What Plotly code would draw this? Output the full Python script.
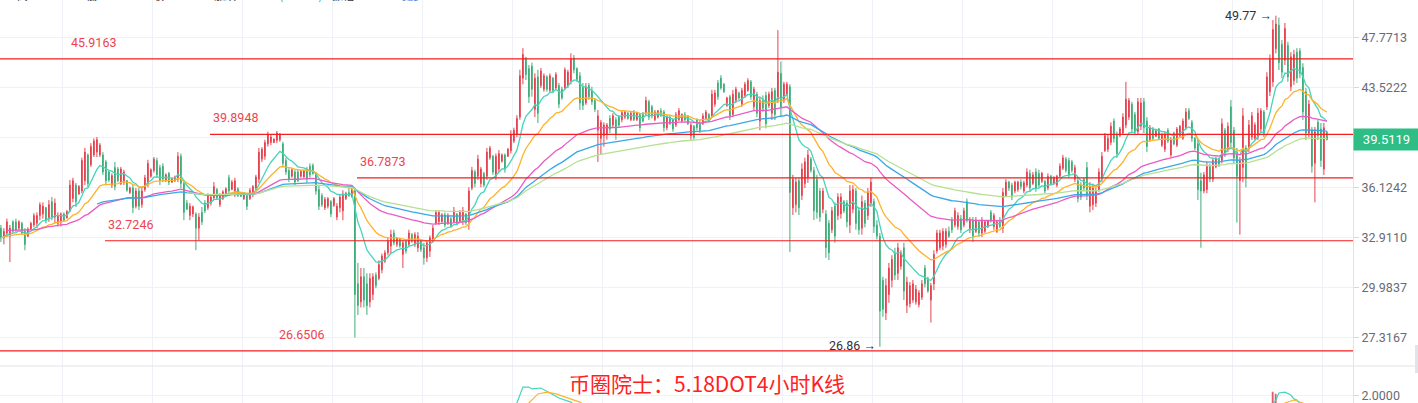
import math
import plotly.graph_objects as go
from plotly.subplots import make_subplots

# ---------------- data (4H candles, DOT) ----------------
opens = [33.5,32.9,33.2,33.0,33.9,33.9,33.5,33.8,33.3,33.0,
 33.45,33.7,33.8,34.3,34.4,34.8,34.1,35.2,34.2,33.8,
 33.9,34.4,34.15,34.6,35.4,36.3,35.7,35.9,36.6,38.4,
 37.7,38.4,38.6,38.4,38.4,37.9,37.2,36.3,37.5,37.4,
 36.4,36.5,36.6,35.8,36.1,34.9,35.9,35.0,36.0,36.4,
 36.9,37.3,38.0,37.5,37.6,36.6,37.1,36.5,36.6,36.7,
 38.3,36.4,35.1,34.3,34.4,34.4,33.5,34.5,35.1,34.8,
 35.1,35.45,36.0,35.0,35.4,35.6,36.8,36.0,35.8,36.05,
 35.75,35.4,35.6,35.4,35.7,36.1,36.7,38.1,38.3,39.2,
 39.3,39.3,39.45,39.5,39.2,38.0,37.3,36.9,37.2,37.2,
 36.9,36.85,37.4,37.6,37.65,37.0,36.0,35.6,34.8,34.9,
 35.2,34.95,34.2,34.8,34.6,35.4,35.8,35.55,35.9,30.2,
 29.2,30.6,30.2,29.2,29.6,30.7,30.5,31.0,31.5,32.0,
 32.4,33.2,32.5,32.85,31.9,32.7,32.5,33.1,32.5,32.3,
 32.7,32.3,31.7,32.1,32.8,33.8,33.9,33.9,34.35,33.8,
 34.1,33.9,34.4,33.9,34.0,34.4,33.9,36.1,37.2,36.9,
 36.4,37.1,36.9,38.2,38.3,36.9,37.4,37.95,38.4,38.3,
 38.7,39.4,39.9,41.2,44.3,46.0,45.1,45.3,41.8,44.4,
 43.7,43.4,44.4,43.3,44.3,43.5,43.7,43.4,43.5,43.7,
 44.1,46.0,45.1,44.5,43.6,42.3,43.7,43.3,42.5,40.2,
 39.6,39.8,39.9,41.1,40.6,41.0,41.2,41.0,41.2,41.5,
 41.0,41.6,41.0,41.4,41.5,41.5,42.4,42.0,41.0,41.2,
 41.7,41.6,40.4,41.2,41.0,40.6,41.0,40.9,41.4,41.3,
 39.8,40.5,41.0,40.7,40.7,41.1,41.4,41.3,42.2,43.9,
 44.3,43.8,42.1,42.8,41.4,42.5,43.1,42.2,42.9,43.3,
 44.0,42.0,43.0,40.9,42.5,42.9,42.1,41.5,43.3,42.6,
 44.7,42.5,43.0,43.6,34.8,35.0,36.6,35.6,36.4,36.8,
 38.1,37.3,36.7,35.9,34.7,34.4,33.8,33.4,34.9,34.3,
 34.4,35.2,35.1,33.7,34.7,35.9,34.6,33.5,35.1,34.3,
 35.1,35.2,33.7,33.0,30.4,28.6,29.6,30.4,32.0,30.8,
 31.2,32.3,29.0,29.1,29.3,29.2,29.05,29.45,31.1,30.5,
 29.3,30.2,32.1,32.3,32.4,32.5,33.3,34.0,33.7,33.6,
 34.1,33.7,35.2,33.4,34.0,33.3,33.9,33.2,33.3,33.6,
 34.5,33.6,33.3,33.9,33.5,35.6,36.5,36.3,35.9,36.0,
 36.5,35.9,36.3,37.1,36.4,37.2,37.1,36.55,36.55,36.1,
 36.9,36.4,36.3,36.9,37.45,38.1,38.0,37.9,36.7,36.6,
 36.3,36.7,37.5,34.9,35.0,35.1,36.0,36.7,38.7,38.8,
 39.3,40.9,39.9,39.8,40.0,40.6,41.2,42.2,41.4,40.1,
 40.5,42.4,40.9,39.5,40.3,39.75,40.3,39.1,38.8,40.2,
 38.4,40.0,39.1,39.8,39.6,40.4,41.7,40.8,39.6,39.2,
 36.6,35.9,36.0,37.6,36.7,37.55,38.1,38.0,40.2,38.8,
 42.0,40.2,38.6,36.6,37.5,38.9,38.9,39.7,39.6,39.7,
 40.3,41.6,42.0,43.2,44.0,46.8,48.9,47.2,45.8,47.1,
 43.6,44.1,46.5,46.6,45.2,43.2,40.0,40.2,37.8,40.8,
 40.3,37.4,40.05]

highs = [33.7,33.5,34.1,33.7,34.0,34.1,34.0,33.9,33.5,33.55,
 33.9,34.45,34.5,35.15,35.15,34.85,35.3,35.5,35.4,34.5,
 34.5,34.5,34.65,36.65,36.8,36.45,36.3,38.2,38.9,38.5,
 39.25,39.6,39.7,39.25,38.6,38.05,37.3,37.1,37.9,37.55,
 37.55,37.35,36.65,36.2,36.3,36.1,36.1,36.15,37.0,38.05,
 37.45,38.25,38.2,37.7,37.8,37.1,37.2,36.8,36.95,38.6,
 38.5,36.65,35.3,35.1,34.95,34.5,34.45,34.85,35.3,35.75,
 35.65,36.5,36.1,35.75,35.95,36.15,37.0,36.65,36.8,36.15,
 35.8,35.8,35.75,36.1,36.3,37.0,38.9,38.95,39.5,40.1,
 39.85,39.6,40.15,40.0,39.35,38.2,37.45,37.45,37.35,37.35,
 37.35,37.35,37.55,37.8,37.8,37.2,36.3,35.75,35.5,35.5,
 35.3,35.5,35.1,35.65,35.95,35.85,36.15,36.15,36.1,31.4,
 31.1,31.1,30.8,30.8,30.8,30.85,31.55,31.95,32.15,32.9,
 33.4,33.4,32.95,32.9,32.75,32.75,33.4,33.2,33.25,33.25,
 32.75,32.6,32.75,33.05,33.7,34.65,34.65,34.45,34.5,34.45,
 34.2,34.85,34.45,34.65,34.85,34.45,36.15,37.55,37.35,38.4,
 37.55,37.2,38.9,39.05,38.4,38.5,38.75,38.5,38.5,38.9,
 40.2,40.4,41.35,45.0,46.85,46.1,45.4,45.6,44.7,45.0,
 45.15,44.7,44.55,44.7,44.4,44.8,43.9,43.6,45.2,45.0,
 46.4,46.25,45.2,44.8,43.9,43.9,43.9,43.6,42.7,41.75,
 40.98,40.8,40.75,41.35,41.5,41.2,41.35,41.75,41.7,41.6,
 41.6,41.75,41.6,41.5,41.6,42.8,42.55,42.15,41.75,41.75,
 41.9,41.75,41.35,41.35,41.1,41.6,41.9,41.5,41.6,41.35,
 40.75,40.6,41.1,40.98,41.5,41.75,41.5,43.35,43.35,44.15,
 44.55,43.9,42.8,42.95,43.35,43.6,43.2,43.5,44.0,44.3,
 44.15,43.6,43.2,42.8,42.9,43.2,43.2,43.5,43.5,48.45,
 45.7,44.0,44.0,43.8,37.0,36.8,36.8,37.8,38.2,38.75,
 38.25,37.55,37.0,36.1,36.1,34.65,34.01,34.85,35.15,35.75,
 35.75,35.3,35.3,36.3,36.3,36.1,34.85,35.6,35.3,36.1,
 36.8,35.4,34.0,33.2,30.6,30.5,31.4,31.85,32.3,32.6,
 32.15,32.6,30.6,30.3,30.42,30.13,29.85,30.42,31.28,30.6,
 30.25,32.15,33.4,33.4,33.5,33.5,33.6,34.2,34.8,34.5,
 34.33,34.8,35.4,34.2,34.2,34.2,34.0,34.2,34.0,34.0,
 34.65,34.45,34.0,34.2,36.1,36.7,36.6,36.45,36.6,36.6,
 36.7,36.6,37.45,37.35,37.2,37.45,37.35,37.2,36.65,37.1,
 37.0,36.9,37.0,37.8,38.4,38.25,38.2,38.05,37.7,36.8,
 36.5,36.8,37.9,36.5,36.4,36.15,37.45,38.6,40.0,39.85,
 40.8,41.1,40.1,40.45,41.5,44.0,42.7,42.4,41.6,42.7,
 42.7,42.7,41.2,40.6,40.45,40.22,40.37,40.0,40.1,40.37,
 39.7,40.1,40.45,40.6,41.1,41.9,41.9,40.98,39.7,39.48,
 37.15,37.2,37.9,37.8,38.2,38.25,38.2,41.1,40.37,40.8,
 42.54,40.45,38.9,38.25,41.9,39.1,40.98,41.6,40.8,41.9,
 41.9,41.75,44.8,46.3,49.37,49.77,49.6,47.57,49.1,47.4,
 46.5,46.7,46.85,46.85,45.55,43.5,42.54,40.45,40.45,40.98,
 40.75,40.75,40.15]

lows = [32.65,32.5,32.95,31.45,33.2,33.25,33.4,33.1,32.15,32.95,
 33.4,33.55,33.5,34.0,34.1,33.8,33.9,34.0,33.8,33.6,
 33.6,33.9,34.1,34.5,35.15,34.85,35.65,35.75,36.3,36.15,
 37.55,38.25,38.25,38.25,37.0,36.3,36.5,36.1,35.95,36.5,
 36.3,36.3,35.85,35.7,34.45,34.75,34.65,34.8,35.85,36.15,
 36.8,37.15,36.8,36.3,36.5,36.5,36.3,36.45,36.5,36.5,
 36.1,34.0,34.65,34.0,34.2,32.15,32.75,33.7,34.45,34.65,
 34.95,35.3,35.3,34.85,35.3,35.5,35.75,35.95,35.5,35.5,
 35.5,35.3,34.65,35.3,35.5,35.95,36.45,37.9,38.05,39.0,
 39.1,39.25,39.25,39.35,37.55,37.0,36.5,36.8,36.3,36.5,
 36.8,36.8,36.45,36.8,37.0,35.65,34.65,34.85,34.65,34.75,
 34.2,34.85,34.0,34.5,34.0,35.3,35.5,35.45,27.32,28.5,
 28.9,28.9,28.5,28.9,29.3,29.95,30.4,30.8,31.4,31.85,
 31.95,32.45,32.35,32.3,31.1,31.95,32.35,32.6,32.35,32.05,
 32.05,31.3,31.45,31.75,32.6,33.7,33.7,33.85,33.55,33.7,
 33.55,33.85,33.7,33.85,33.7,33.7,33.4,35.95,36.15,36.65,
 36.15,36.15,36.65,38.05,37.0,36.65,37.2,37.85,37.15,38.25,
 38.5,39.25,39.7,41.0,43.8,44.15,42.3,42.8,41.2,40.75,
 43.5,43.2,43.2,43.1,43.1,43.35,41.9,42.55,43.35,43.5,
 43.8,44.7,44.0,41.75,41.75,42.15,42.55,42.15,41.6,37.9,
 38.4,39.0,39.5,40.0,40.4,39.5,40.4,40.8,41.05,41.0,
 40.9,40.9,40.9,40.1,40.8,41.35,40.98,41.1,40.9,41.1,
 41.2,40.1,40.2,40.6,40.1,40.45,40.9,40.8,40.9,40.6,
 39.5,39.5,40.2,40.0,40.6,40.98,40.8,41.2,42.0,42.55,
 43.35,43.1,42.0,40.98,41.2,42.3,42.55,42.0,42.7,43.2,
 42.55,41.75,41.2,40.2,41.6,40.35,41.9,40.98,40.98,42.3,
 41.2,42.3,42.85,32.05,34.33,34.5,34.33,35.3,36.1,36.45,
 37.15,34.01,34.1,33.9,34.45,31.7,31.57,33.2,32.6,34.01,
 34.1,34.45,33.55,33.2,34.45,33.4,33.1,33.1,33.55,34.01,
 34.85,33.2,32.8,26.86,28.4,28.23,29.15,30.0,30.42,30.42,
 31.0,29.3,28.6,28.9,29.15,29.05,28.9,29.3,30.0,29.7,
 28.1,29.85,31.95,32.15,32.15,32.3,32.9,33.2,33.55,33.4,
 33.2,33.55,33.85,33.2,32.65,33.2,32.95,32.95,33.2,33.5,
 33.85,33.4,33.2,33.5,33.2,35.5,35.9,35.3,35.75,35.85,
 36.0,35.75,36.15,35.85,36.3,35.85,36.15,36.45,35.75,35.95,
 36.3,36.3,36.15,36.8,37.33,37.15,36.8,37.15,36.5,35.15,
 35.3,35.95,35.3,34.5,34.65,34.85,35.85,36.5,38.6,38.6,
 39.1,39.3,38.2,39.7,39.85,40.35,40.98,40.0,39.85,39.85,
 40.22,40.0,38.6,39.35,39.48,39.7,39.48,38.97,38.6,39.25,
 38.25,39.1,38.97,39.7,39.48,40.22,40.98,39.35,38.75,35.3,
 32.3,35.75,35.75,36.5,36.5,37.45,37.55,37.8,38.25,38.6,
 38.9,37.8,33.85,33.1,36.5,36.15,38.6,39.48,39.48,39.48,
 40.0,39.7,41.75,42.85,43.6,46.4,44.98,44.3,45.4,44.0,
 43.25,43.75,43.9,44.3,40.98,39.48,39.7,37.15,35.15,39.48,
 37.55,36.99,39.45]

closes = [32.9,33.3,33.9,33.5,33.3,33.4,33.9,33.2,32.5,33.45,
 33.8,34.3,34.3,35.0,34.9,34.0,35.0,34.2,35.1,34.3,
 34.4,34.0,34.55,36.3,36.6,35.2,36.2,38.0,38.6,36.4,
 39.0,39.4,39.5,39.1,37.2,36.6,36.65,36.95,36.2,36.6,
 37.4,37.2,35.95,36.1,34.8,35.9,34.9,35.9,36.8,37.8,
 37.35,38.1,37.0,36.6,36.7,37.0,36.5,36.75,36.85,38.3,
 36.4,34.5,34.7,34.9,34.85,33.5,34.2,33.9,34.6,35.6,
 35.5,36.2,35.45,35.6,35.85,36.05,35.9,36.5,36.6,35.6,
 35.55,35.7,34.9,35.95,36.2,36.85,38.6,38.8,39.3,39.9,
 39.7,39.55,40.0,39.9,37.8,37.2,36.7,37.35,36.5,36.6,
 37.25,37.3,36.7,37.0,37.1,35.9,34.9,35.0,35.35,35.4,
 34.4,35.4,34.9,35.5,35.7,35.75,35.6,36.0,29.6,29.0,
 30.6,29.3,29.0,30.5,30.6,30.1,31.3,31.8,32.0,32.7,
 33.1,32.6,32.85,32.4,32.6,32.1,33.2,32.7,33.1,33.0,
 32.2,31.7,32.6,32.9,33.5,34.5,34.5,34.35,33.7,34.3,
 33.65,34.6,33.8,34.5,34.6,33.85,35.9,37.3,36.4,38.1,
 37.4,36.3,38.6,38.9,37.2,38.3,38.5,38.4,37.4,38.8,
 39.9,40.2,41.1,44.5,46.3,44.6,42.8,43.4,44.3,41.5,
 44.9,44.5,43.4,44.5,43.3,44.6,42.2,42.7,45.0,44.8,
 45.9,45.0,44.2,42.3,42.1,43.6,42.8,42.4,41.8,41.3,
 40.8,40.6,40.6,40.3,41.3,39.9,40.6,41.55,41.6,41.1,
 41.5,41.0,41.5,40.4,40.9,42.5,41.2,41.3,41.6,41.7,
 41.35,40.4,41.2,40.7,40.3,41.4,41.7,41.4,41.0,40.7,
 40.6,39.7,40.4,40.2,41.3,41.6,40.9,43.0,43.1,42.8,
 43.5,43.2,42.7,41.3,43.0,43.4,42.7,43.3,43.8,44.1,
 42.8,43.4,41.5,42.5,41.9,40.7,43.0,43.2,41.4,44.8,
 42.0,43.8,43.8,35.8,36.7,36.5,34.8,37.4,37.9,38.4,
 37.3,34.6,34.5,34.2,35.9,32.3,32.0,34.6,33.0,35.5,
 35.5,34.6,33.9,35.9,36.0,33.8,33.4,35.2,33.8,35.8,
 36.5,33.6,33.0,28.7,28.8,30.1,31.1,31.6,30.7,32.3,
 32.0,29.8,30.3,30.1,30.2,29.9,29.7,30.2,30.2,29.8,
 30.1,31.9,33.2,33.2,33.3,33.3,33.0,33.4,34.6,34.3,
 33.4,34.6,34.0,34.0,33.0,34.0,33.2,34.0,33.9,33.95,
 33.95,34.3,33.9,33.6,35.8,36.5,36.1,35.5,36.5,36.5,
 36.2,36.45,37.2,36.1,37.0,36.1,36.3,37.1,35.9,36.9,
 36.4,36.8,36.9,37.6,38.2,37.3,37.0,37.3,37.5,35.4,
 35.5,36.1,35.6,36.2,36.1,35.9,37.2,38.3,39.8,39.6,
 40.5,39.6,38.5,40.3,41.2,42.6,42.5,40.3,40.1,42.4,
 42.3,40.4,39.0,40.4,39.6,40.15,39.6,39.85,39.9,39.4,
 39.5,39.2,40.3,40.5,40.9,41.6,41.1,39.6,38.9,36.0,
 35.9,37.0,37.6,36.7,38.0,38.15,37.65,40.7,38.5,40.5,
 39.3,38.2,36.9,38.0,41.3,36.8,40.6,41.3,40.6,41.5,
 41.7,40.0,44.4,45.9,48.5,49.0,45.6,44.8,48.6,44.4,
 46.1,46.3,44.3,44.7,41.6,40.0,42.2,37.6,40.1,39.8,
 38.0,40.4,39.51]

# user drawn horizontal levels and the candle index where each drawing starts
levels = [45.9163, 39.8948, 36.7873, 32.7246, 26.6506]
level_start = [-1, 69.7, 118.7, 34.7, -1]
level_label_at = [22.8, 70.0, 119.0, 35.0, 92.0]

# EMA settings: (span, first index drawn, colour)
ema_specs = [(12, 0, "#47d4bb"), (26, 0, "#fdb32b"), (60, 2, "#e95cc4"),
             (90, 32, "#3aa8e8"), (120, 62, "#b5e092")]

# right-axis ticks
y_ticks = [27.3167, 29.9837, 32.9110, 36.1242, 39.6510, 43.5222, 47.7713]
y_tick_text = ["27.3167", "29.9837", "32.9110", "36.1242", "", "43.5222", "47.7713"]

last_price = 39.5119
peak_idx, peak_val = 425, 49.77
trough_idx, trough_val = 293, 26.86

# lower (MACD-like) pane, only the tops are visible
dif_idx = [169, 172, 174, 176, 177, 180, 183, 186, 190, 193, None, 421, 425, 426, 428, 430, 431, 432, 435]
dif_val = [1.0, 1.6, 2.46, 2.46, 2.36, 2.41, 2.14, 1.87, 1.65, 1.2, None, 1.0, 1.76, 2.14, 2.19, 2.03, 1.82, 1.76, 1.2]
dea_idx = [173, 176, 179, 182, 185, 189, 193, 197, None, 425, 428, 431, 434, 437]
dea_val = [1.0, 1.6, 2.09, 2.19, 2.09, 1.87, 1.65, 1.2, None, 1.0, 1.6, 1.76, 1.6, 1.2]
hist_idx = [424, 425]
hist_val = [2.2, 2.1]

caption = "币圈院士：5.18DOT4小时K线"

# clipped header row (x pixel, text, colour)
header = [(0, "00", "#26a69a"), (15, "高", "#333"), (28, "40.1500", "#26a69a"),
          (84, "低", "#333"), (98, "39.4500", "#26a69a"), (151, "收", "#333"),
          (165, "39.5119", "#26a69a"), (212, "涨跌", "#333"),
          (240, "-0.5381(-1.34%)", "#26a69a"), (330, "振幅", "#333"),
          (358, "1.76%", "#26a69a"), (400, "更多", "#3d7be0")]

# ---------------- build ----------------
RED = "#e5434f"
GREEN = "#3fae78"
GRID = "#eef1f6"
AXIS_TXT = "#676b77"
LEVEL_RED = "#f51d1d"

idx = list(range(len(closes)))


def ema(vals, span, start):
    a = 2.0 / (span + 1)
    out = [None] * len(vals)
    out[start] = sum(vals[:start + 1]) / (start + 1)
    for k in range(start + 1, len(vals)):
        out[k] = out[k - 1] + a * (vals[k] - out[k - 1])
    return out


W, H = 1418, 403
PLOT_W = 1353
MAIN_BOTTOM_PX = 366
lower_frac = (H - MAIN_BOTTOM_PX) / H

fig = make_subplots(rows=2, cols=1, shared_xaxes=True, vertical_spacing=0,
                    row_heights=[1 - lower_frac, lower_frac])

fig.add_trace(go.Candlestick(
    x=idx, open=opens, high=highs, low=lows, close=closes,
    increasing=dict(line=dict(color=RED, width=1), fillcolor=RED),
    decreasing=dict(line=dict(color=GREEN, width=1), fillcolor=GREEN),
    whiskerwidth=0, hoverinfo="skip"), row=1, col=1)

for span, start, col in ema_specs:
    fig.add_trace(go.Scatter(x=idx, y=ema(closes, span, start), mode="lines",
                             line=dict(color=col, width=1.3), hoverinfo="skip"),
                  row=1, col=1)

x_end = 460
for lv, st in zip(levels, level_start):
    fig.add_trace(go.Scatter(x=[st, x_end], y=[lv, lv], mode="lines",
                             line=dict(color=LEVEL_RED, width=1.2), hoverinfo="skip"),
                  row=1, col=1)

# lower pane
fig.add_trace(go.Bar(x=hist_idx, y=hist_val, marker_color=RED, width=0.45,
                     hoverinfo="skip"), row=2, col=1)
fig.add_trace(go.Scatter(x=dif_idx, y=dif_val, mode="lines", connectgaps=False,
                         line=dict(color="#47d4bb", width=1.2), hoverinfo="skip"), row=2, col=1)
fig.add_trace(go.Scatter(x=dea_idx, y=dea_val, mode="lines", connectgaps=False,
                         line=dict(color="#fdb32b", width=1.2), hoverinfo="skip"), row=2, col=1)

# ---------------- layout ----------------
y_lo, y_hi = 25.912, 51.248
xgrid = [20.6 + 30 * k for k in range(15)]
xr = [-0.3, 450.7]

fig.update_layout(
    width=W, height=H, margin=dict(l=0, r=W - PLOT_W, t=0, b=0),
    paper_bgcolor="white", plot_bgcolor="white", showlegend=False,
    font=dict(family="Roboto, Arial, sans-serif", size=12, color=AXIS_TXT),
    bargap=0, boxgap=0.62,
)
fig.update_xaxes(range=xr, tickvals=xgrid, showticklabels=False, ticks="",
                 showgrid=True, gridcolor=GRID, gridwidth=1, zeroline=False,
                 showline=False, rangeslider=dict(visible=False), fixedrange=True)
fig.update_yaxes(row=1, col=1, type="log", side="right",
                 range=[math.log10(y_lo), math.log10(y_hi)],
                 tickvals=y_ticks, ticktext=y_tick_text,
                 showgrid=True, gridcolor=GRID, gridwidth=1, zeroline=False,
                 showline=True, linecolor="#e0e3eb", linewidth=1,
                 ticks="outside", ticklen=5, tickcolor="#d5d8e0",
                 tickfont=dict(family="Roboto", size=12.5, color=AXIS_TXT))
fig.update_yaxes(row=2, col=1, side="right", range=[1.6, 3.6],
                 tickvals=[2.0], ticktext=["2.0000"],
                 showgrid=True, gridcolor=GRID, gridwidth=1, zeroline=False,
                 showline=True, linecolor="#e0e3eb", linewidth=1,
                 ticks="outside", ticklen=5, tickcolor="#d5d8e0",
                 tickfont=dict(family="Roboto", size=12.5, color=AXIS_TXT))

shapes = [
    dict(type="line", xref="paper", yref="paper", x0=0, x1=W / PLOT_W,
         y0=lower_frac, y1=lower_frac, line=dict(color="#e0e3eb", width=1)),
    dict(type="rect", xref="paper", yref="paper", x0=1415 / PLOT_W, x1=W / PLOT_W,
         y0=1 - 373 / H, y1=1 - 345 / H, fillcolor="#e2e4ea", line=dict(width=0)),
]
fig.update_layout(shapes=shapes)

ann = []
for lv, lx in zip(levels, level_label_at):
    ann.append(dict(x=lx, y=math.log10(lv), xref="x", yref="y", text=f"{lv:.4f}",
                    showarrow=False, xanchor="left", yanchor="bottom", yshift=7,
                    font=dict(family="Roboto", size=12.5, color="#f0424e")))
ann.append(dict(x=peak_idx, y=math.log10(peak_val), xref="x", yref="y",
                text=f"{peak_val:.2f} →", showarrow=False, xanchor="right",
                yanchor="middle", xshift=-2,
                font=dict(family="Roboto", size=12.5, color="#2f3138")))
ann.append(dict(x=trough_idx, y=math.log10(trough_val), xref="x", yref="y",
                text=f"{trough_val:.2f} →", showarrow=False, xanchor="right",
                yanchor="middle", xshift=-2, yshift=1,
                font=dict(family="Roboto", size=12.5, color="#2f3138")))
ann.append(dict(x=1, y=math.log10(last_price), xref="paper", yref="y",
                text=f"{last_price:.4f}", showarrow=False, xanchor="left",
                yanchor="middle", width=W - PLOT_W, height=21, borderpad=0,
                bgcolor="#2ebd85", align="center",
                font=dict(family="Roboto", size=13, color="white")))
ann.append(dict(x=707 / PLOT_W, y=1 - 383 / H, xref="paper", yref="paper",
                text=caption, showarrow=False, xanchor="center", yanchor="middle",
                font=dict(family="Noto Sans CJK SC", size=21, color="#ff2222")))
for hx, ht, hc in header:
    ann.append(dict(x=hx / PLOT_W, y=1, xref="paper", yref="paper", text=ht,
                    showarrow=False, xanchor="left", yanchor="bottom", yshift=-5,
                    font=dict(family="Noto Sans CJK SC", size=11, color=hc)))
fig.update_layout(annotations=ann)

fig.write_html("out.html", post_script="document.body.style.margin='0';")
